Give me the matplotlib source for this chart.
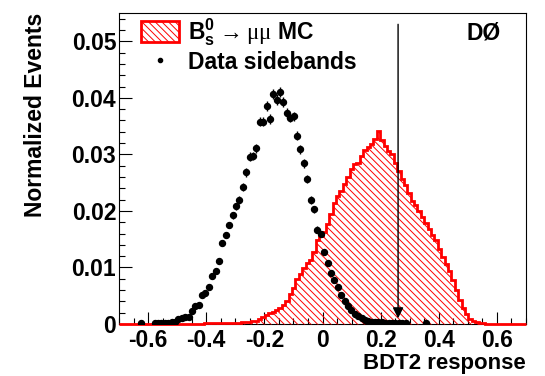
import numpy as np
import matplotlib
matplotlib.use("Agg")
import matplotlib.pyplot as plt
from matplotlib.patches import Patch
from matplotlib.lines import Line2D
from matplotlib.ticker import MultipleLocator

# binning: 120 bins over the BDT2 range
x_lo, x_hi, n_bins = -0.7, 0.7, 120

# MC signal (normalized), bins 25..107, zero elsewhere
mc_first_bin = 25
mc_vals = [
    0.0001, 0.0001, 0.0001, 0.0001, 0.0001, 0.0001, 0.0001, 0.0002, 0.0002, 0.0002,
    0.0002, 0.0003, 0.0003, 0.0004, 0.0005, 0.0006, 0.0008, 0.0012, 0.0016, 0.0019,
    0.0022, 0.0025, 0.0028, 0.0033, 0.0040, 0.0053, 0.0064, 0.0079, 0.0088, 0.0099,
    0.0107, 0.0114, 0.0128, 0.0148, 0.0156, 0.0162, 0.0176, 0.0195, 0.0214, 0.0226,
    0.0236, 0.0248, 0.0260, 0.0274, 0.0283, 0.0285, 0.0297, 0.0308, 0.0313, 0.0319,
    0.0327, 0.0342, 0.0325, 0.0315, 0.0306, 0.0300, 0.0285, 0.0270, 0.0256, 0.0246,
    0.0232, 0.0218, 0.0210, 0.0200, 0.0190, 0.0178, 0.0168, 0.0158, 0.0148, 0.0133,
    0.0119, 0.0106, 0.0094, 0.0078, 0.0061, 0.0043, 0.0029, 0.0017, 0.0009, 0.0005,
    0.0003, 0.0002, 0.0001,
]

# data sidebands, bins 6..90 (0 = empty bin, not drawn)
data_first_bin = 6
data_vals = [
    0.0001, 0.0, 0.0, 0.0, 0.0001, 0.0001, 0.0001, 0.0001, 0.0002, 0.0003,
    0.0004, 0.0009, 0.0011, 0.0013, 0.0012, 0.0023, 0.0032, 0.0034, 0.0052, 0.0055,
    0.0065, 0.0085, 0.0093, 0.0112, 0.0144, 0.0157, 0.0175, 0.0192, 0.0208, 0.0219,
    0.0243, 0.0268, 0.0296, 0.0297, 0.0311, 0.0358, 0.0358, 0.0386, 0.0363, 0.0407,
    0.0397, 0.0410, 0.0393, 0.0373, 0.0365, 0.0367, 0.0333, 0.0309, 0.0284, 0.0256,
    0.0219, 0.0203, 0.0167, 0.0159, 0.0127, 0.0107, 0.0090, 0.0077, 0.0065, 0.0051,
    0.0041, 0.0031, 0.0025, 0.0018, 0.0014, 0.0010, 0.0007, 0.0005, 0.0004, 0.0004,
    0.0003, 0.0003, 0.0002, 0.0002, 0.0002, 0.0001, 0.0001, 0.0001, 0.0001, 0.0,
    0.0, 0.0, 0.0, 0.0, 0.0001,
]

bdt_cut = 0.26
arrow_top, arrow_tip = 0.053, 0.001

xticks = [-0.6, -0.4, -0.2, 0.0, 0.2, 0.4, 0.6]
xticklabels = ["-0.6", "-0.4", "-0.2", "0", "0.2", "0.4", "0.6"]
yticks = [0.0, 0.01, 0.02, 0.03, 0.04, 0.05]
yticklabels = ["0", "0.01", "0.02", "0.03", "0.04", "0.05"]

FS = 16.5

plt.rcParams["font.family"] = ["Liberation Sans", "DejaVu Sans"]
plt.rcParams["font.weight"] = "bold"
plt.rcParams["mathtext.fontset"] = "custom"
plt.rcParams["mathtext.rm"] = "Liberation Serif:weight=normal"
plt.rcParams["mathtext.bf"] = "Liberation Sans:bold"
plt.rcParams["hatch.linewidth"] = 0.7

edges = np.linspace(x_lo, x_hi, n_bins + 1)
centers = 0.5 * (edges[:-1] + edges[1:])

mc = np.zeros(n_bins)
mc[mc_first_bin:mc_first_bin + len(mc_vals)] = mc_vals

dv = np.array(data_vals)
dx = centers[data_first_bin:data_first_bin + len(dv)]
keep = dv > 0
derr = 0.0045 * np.sqrt(dv[keep])  # stat. error bars, ~sqrt(N)

fig = plt.figure(figsize=(5.45, 3.76), dpi=100)
ax = fig.add_axes([119 / 545, 52 / 376, 407 / 545, 311 / 376])

hatch = "\\" * 5
ax.stairs(mc, edges, fill=True, facecolor="none", edgecolor="red",
          hatch=hatch, linewidth=2, clip_on=False, zorder=3)

ax.errorbar(dx[keep], dv[keep], yerr=derr, fmt="o", color="black",
            ms=4.3, elinewidth=1, capsize=0, zorder=4)

ax.annotate("", xy=(bdt_cut, arrow_tip), xytext=(bdt_cut, arrow_top),
            arrowprops=dict(arrowstyle="-|>", color="black", lw=1,
                            mutation_scale=16, shrinkA=0, shrinkB=0),
            zorder=5)

ax.set_xlim(x_lo, x_hi)
ax.set_ylim(0, 0.055)
ax.set_xticks(xticks)
ax.set_xticklabels(xticklabels)
ax.set_yticks(yticks)
ax.set_yticklabels(yticklabels)
ax.xaxis.set_minor_locator(MultipleLocator(0.05))
ax.yaxis.set_minor_locator(MultipleLocator(0.002))
ax.tick_params(which="both", direction="in", top=False, right=False,
               labelsize=FS, width=0.8)
ax.tick_params(which="major", length=9)
ax.tick_params(which="minor", length=4.5)
ax.tick_params(axis="y", pad=2)
ax.tick_params(axis="x", pad=3.5)
for s in ax.spines.values():
    s.set_linewidth(0.8)

ax.set_xlabel("BDT2 response", fontsize=16, fontweight="bold", loc="right")
ax.xaxis.set_label_coords(1.0, -0.126)
ax.xaxis.label.set_va("center")
ax.set_ylabel("Normalized Events", fontsize=FS, fontweight="bold", loc="top")
ax.yaxis.set_label_coords(-0.177, 1.0)

ax.text(0.897, 0.936, "DØ", transform=ax.transAxes, fontsize=FS,
        fontweight="bold", ha="center", va="center")

handles = [
    Patch(facecolor="none", edgecolor="red", hatch=hatch, linewidth=2),
    Line2D([], [], marker="o", color="black", linestyle="none", ms=3),
]
labels = [r"B$_\mathbf{s}^\mathbf{0}\rightarrow\mathrm{\mu\mu}$ MC",
          "Data sidebands"]
ax.legend(handles, labels, loc="upper left", bbox_to_anchor=(0.054, 0.99),
          frameon=False, fontsize=FS, borderpad=0, borderaxespad=0,
          handlelength=1.65, handleheight=1.0, handletextpad=0.4,
          labelspacing=0.12)

fig.savefig("out.png", dpi=100)
